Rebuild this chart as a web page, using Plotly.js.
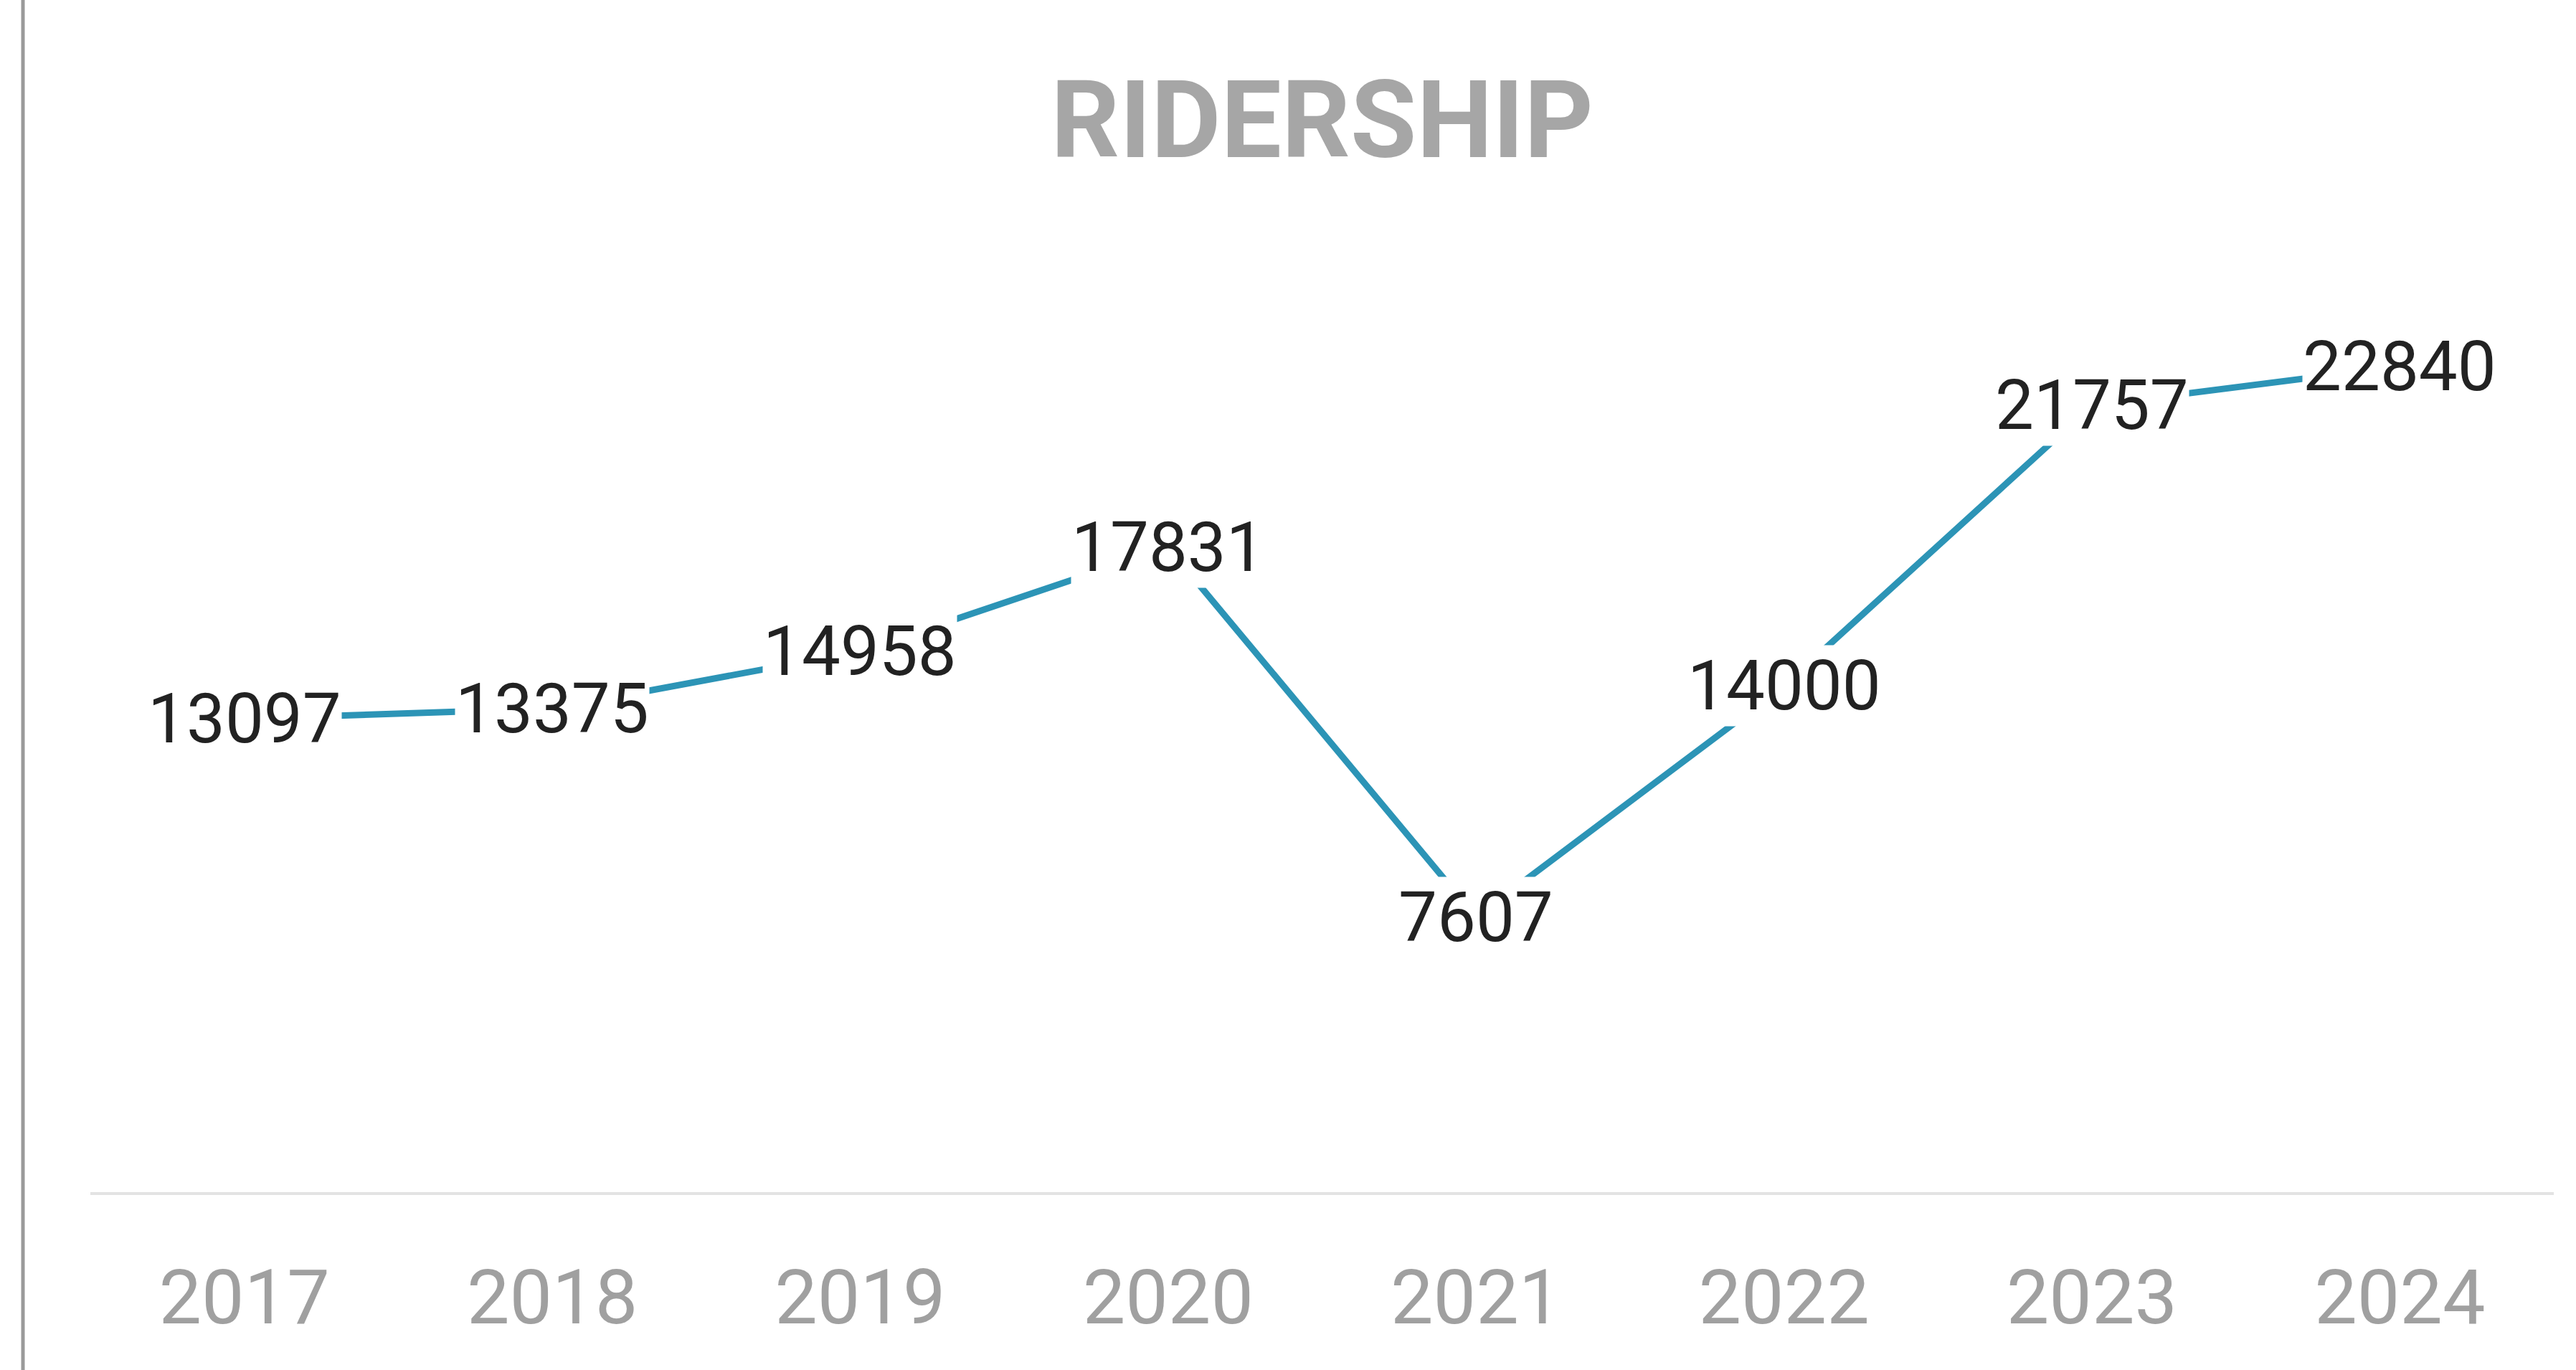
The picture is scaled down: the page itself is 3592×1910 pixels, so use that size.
<!DOCTYPE html>
<html>
<head>
<meta charset="utf-8">
<script src="https://cdn.plot.ly/plotly-3.0.1.min.js"></script>
<style>html,body{margin:0;padding:0;background:#fff;}#chart{width:3592px;height:1910px;}</style>
</head>
<body>
<div id="chart"></div>
<script>
const years = ["2017","2018","2019","2020","2021","2022","2023","2024"];
const ridership = [13097, 13375, 14958, 17831, 7607, 14000, 21757, 22840];
const chartTitle = "RIDERSHIP";

const FONT = "Roboto, 'Liberation Sans', sans-serif";

const trace = {
  x: years,
  y: ridership,
  type: "scatter",
  mode: "lines",
  line: {color: "#2c94b6", width: 9},
  hoverinfo: "skip"
};

const annotations = years.map((yr, i) => ({
  x: i, y: ridership[i], xref: "x", yref: "y",
  text: String(ridership[i]),
  showarrow: false,
  xanchor: "center", yanchor: "middle",
  yshift: 0,
  bgcolor: "rgba(255,255,255,1)",
  borderpad: 0,
  font: {family: FONT, size: 96, color: "#222222"}
}));

const layout = {
  width: 3592, height: 1910,
  margin: {l: 126, r: 31, t: 402, b: 248, pad: 0},
  paper_bgcolor: "#ffffff", plot_bgcolor: "#ffffff",
  showlegend: false,
  title: {
    text: chartTitle,
    x: 0.5, xref: "paper", xanchor: "center",
    y: 1 - 166/1910, yref: "container", yanchor: "middle",
    font: {family: FONT, size: 150, color: "#a6a6a6", weight: 700}
  },
  xaxis: {
    type: "category",
    categoryorder: "array", categoryarray: years,
    range: [-0.5, years.length - 0.5], autorange: false,
    showgrid: false, zeroline: false,
    showline: true, linecolor: "#e3e3e3", linewidth: 4,
    ticks: "", ticklabelstandoff: 52,
    tickfont: {family: FONT, size: 106, color: "#a0a0a0"},
    fixedrange: true
  },
  yaxis: {
    range: [0, 25000], autorange: false, visible: false, showgrid: false, zeroline: false, fixedrange: true
  },
  annotations: annotations,
  shapes: [{
    type: "line", xref: "paper", yref: "paper",
    x0: (32 - 126) / 3435, x1: (32 - 126) / 3435,
    y0: (1662 - 0) / 1260, y1: (1662 - 1910) / 1260,
    line: {color: "#9a9a9a", width: 5}
  }]
};

Plotly.newPlot("chart", [trace], layout, {displayModeBar: false, staticPlot: true});
</script>
</body>
</html>
